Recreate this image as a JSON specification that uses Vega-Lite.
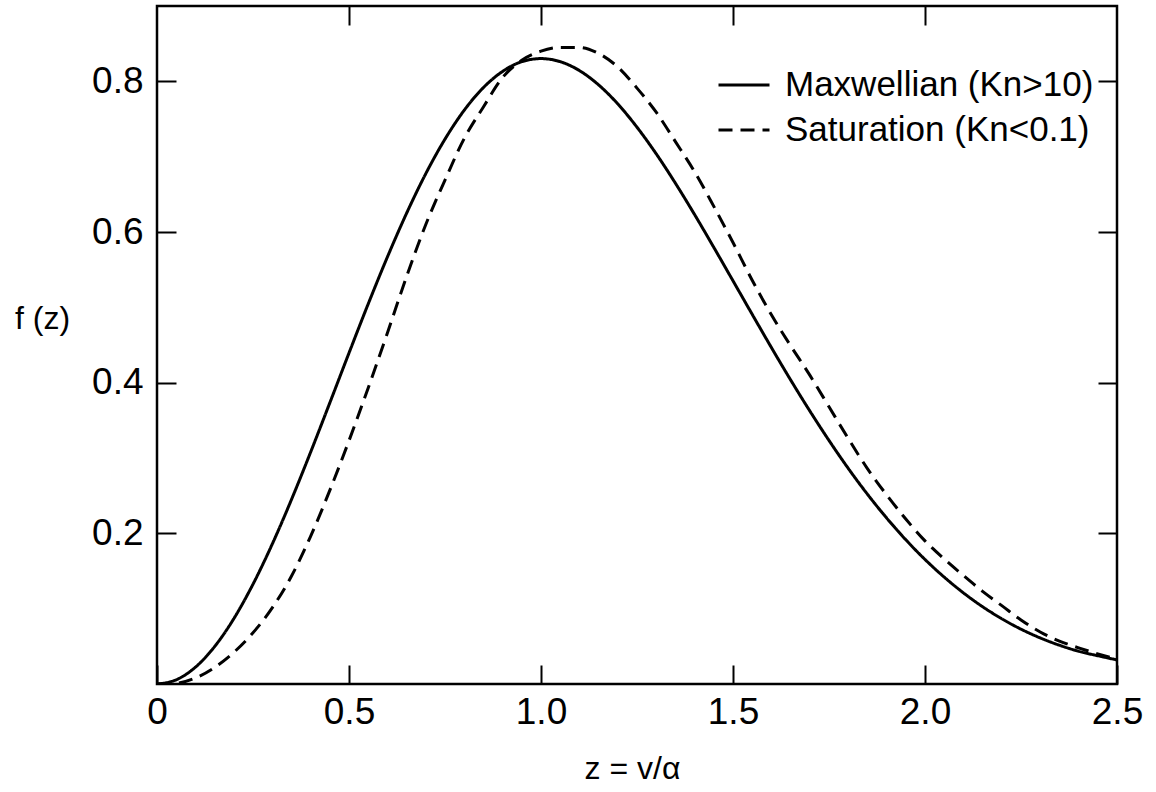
{
  "$schema": "https://vega.github.io/schema/vega-lite/v6.json",
  "width": 960,
  "height": 678,
  "autosize": {"type": "none"},
  "padding": {"left": 157, "top": 6, "right": 39, "bottom": 108},
  "background": "white",
  "config": {
    "view": {"stroke": "black", "strokeWidth": 2.5},
    "font": "Liberation Sans",
    "axis": {"grid": false, "domain": false, "tickColor": "black", "tickWidth": 2, "tickSize": -19, "labelColor": "black", "titleColor": "black", "labelFont": "Liberation Sans", "titleFont": "Liberation Sans", "titleFontWeight": "normal", "labelFlush": false, "labelOverlap": false, "labelBound": false}
  },
  "datasets": {
    "curves": [
      {"series": "Maxwellian (Kn>10)", "z": 0.0, "f": 0.0},
      {"series": "Maxwellian (Kn>10)", "z": 0.05, "f": 0.0056},
      {"series": "Maxwellian (Kn>10)", "z": 0.1, "f": 0.0223},
      {"series": "Maxwellian (Kn>10)", "z": 0.15, "f": 0.0497},
      {"series": "Maxwellian (Kn>10)", "z": 0.2, "f": 0.0867},
      {"series": "Maxwellian (Kn>10)", "z": 0.25, "f": 0.1325},
      {"series": "Maxwellian (Kn>10)", "z": 0.3, "f": 0.1856},
      {"series": "Maxwellian (Kn>10)", "z": 0.35, "f": 0.2446},
      {"series": "Maxwellian (Kn>10)", "z": 0.4, "f": 0.3077},
      {"series": "Maxwellian (Kn>10)", "z": 0.45, "f": 0.3732},
      {"series": "Maxwellian (Kn>10)", "z": 0.5, "f": 0.4394},
      {"series": "Maxwellian (Kn>10)", "z": 0.55, "f": 0.5045},
      {"series": "Maxwellian (Kn>10)", "z": 0.6, "f": 0.5668},
      {"series": "Maxwellian (Kn>10)", "z": 0.65, "f": 0.6249},
      {"series": "Maxwellian (Kn>10)", "z": 0.7, "f": 0.6775},
      {"series": "Maxwellian (Kn>10)", "z": 0.75, "f": 0.7233},
      {"series": "Maxwellian (Kn>10)", "z": 0.8, "f": 0.7616},
      {"series": "Maxwellian (Kn>10)", "z": 0.85, "f": 0.7917},
      {"series": "Maxwellian (Kn>10)", "z": 0.9, "f": 0.8132},
      {"series": "Maxwellian (Kn>10)", "z": 0.95, "f": 0.8261},
      {"series": "Maxwellian (Kn>10)", "z": 1.0, "f": 0.8302},
      {"series": "Maxwellian (Kn>10)", "z": 1.05, "f": 0.8261},
      {"series": "Maxwellian (Kn>10)", "z": 1.1, "f": 0.8143},
      {"series": "Maxwellian (Kn>10)", "z": 1.15, "f": 0.7953},
      {"series": "Maxwellian (Kn>10)", "z": 1.2, "f": 0.77},
      {"series": "Maxwellian (Kn>10)", "z": 1.25, "f": 0.7391},
      {"series": "Maxwellian (Kn>10)", "z": 1.3, "f": 0.7038},
      {"series": "Maxwellian (Kn>10)", "z": 1.35, "f": 0.6648},
      {"series": "Maxwellian (Kn>10)", "z": 1.4, "f": 0.6231},
      {"series": "Maxwellian (Kn>10)", "z": 1.45, "f": 0.5796},
      {"series": "Maxwellian (Kn>10)", "z": 1.5, "f": 0.5352},
      {"series": "Maxwellian (Kn>10)", "z": 1.55, "f": 0.4907},
      {"series": "Maxwellian (Kn>10)", "z": 1.6, "f": 0.4466},
      {"series": "Maxwellian (Kn>10)", "z": 1.65, "f": 0.4037},
      {"series": "Maxwellian (Kn>10)", "z": 1.7, "f": 0.3625},
      {"series": "Maxwellian (Kn>10)", "z": 1.75, "f": 0.3233},
      {"series": "Maxwellian (Kn>10)", "z": 1.8, "f": 0.2863},
      {"series": "Maxwellian (Kn>10)", "z": 1.85, "f": 0.252},
      {"series": "Maxwellian (Kn>10)", "z": 1.9, "f": 0.2204},
      {"series": "Maxwellian (Kn>10)", "z": 1.95, "f": 0.1915},
      {"series": "Maxwellian (Kn>10)", "z": 2.0, "f": 0.1653},
      {"series": "Maxwellian (Kn>10)", "z": 2.05, "f": 0.1419},
      {"series": "Maxwellian (Kn>10)", "z": 2.1, "f": 0.121},
      {"series": "Maxwellian (Kn>10)", "z": 2.15, "f": 0.1026},
      {"series": "Maxwellian (Kn>10)", "z": 2.2, "f": 0.0866},
      {"series": "Maxwellian (Kn>10)", "z": 2.25, "f": 0.0728},
      {"series": "Maxwellian (Kn>10)", "z": 2.3, "f": 0.0612},
      {"series": "Maxwellian (Kn>10)", "z": 2.35, "f": 0.0515},
      {"series": "Maxwellian (Kn>10)", "z": 2.4, "f": 0.0435},
      {"series": "Maxwellian (Kn>10)", "z": 2.45, "f": 0.0375},
      {"series": "Maxwellian (Kn>10)", "z": 2.5, "f": 0.032},
      {"series": "Saturation (Kn<0.1)", "z": 0.0, "f": 0.0},
      {"series": "Saturation (Kn<0.1)", "z": 0.05, "f": 0.001},
      {"series": "Saturation (Kn<0.1)", "z": 0.1, "f": 0.008},
      {"series": "Saturation (Kn<0.1)", "z": 0.15, "f": 0.022},
      {"series": "Saturation (Kn<0.1)", "z": 0.2, "f": 0.042},
      {"series": "Saturation (Kn<0.1)", "z": 0.25, "f": 0.068},
      {"series": "Saturation (Kn<0.1)", "z": 0.3, "f": 0.101},
      {"series": "Saturation (Kn<0.1)", "z": 0.35, "f": 0.143},
      {"series": "Saturation (Kn<0.1)", "z": 0.4, "f": 0.196},
      {"series": "Saturation (Kn<0.1)", "z": 0.45, "f": 0.257},
      {"series": "Saturation (Kn<0.1)", "z": 0.5, "f": 0.323},
      {"series": "Saturation (Kn<0.1)", "z": 0.55, "f": 0.393},
      {"series": "Saturation (Kn<0.1)", "z": 0.6, "f": 0.466},
      {"series": "Saturation (Kn<0.1)", "z": 0.65, "f": 0.541},
      {"series": "Saturation (Kn<0.1)", "z": 0.7, "f": 0.61},
      {"series": "Saturation (Kn<0.1)", "z": 0.75, "f": 0.669},
      {"series": "Saturation (Kn<0.1)", "z": 0.8, "f": 0.724},
      {"series": "Saturation (Kn<0.1)", "z": 0.85, "f": 0.766},
      {"series": "Saturation (Kn<0.1)", "z": 0.9, "f": 0.805},
      {"series": "Saturation (Kn<0.1)", "z": 0.95, "f": 0.828},
      {"series": "Saturation (Kn<0.1)", "z": 1.0, "f": 0.84},
      {"series": "Saturation (Kn<0.1)", "z": 1.05, "f": 0.845},
      {"series": "Saturation (Kn<0.1)", "z": 1.1, "f": 0.845},
      {"series": "Saturation (Kn<0.1)", "z": 1.15, "f": 0.837},
      {"series": "Saturation (Kn<0.1)", "z": 1.2, "f": 0.819},
      {"series": "Saturation (Kn<0.1)", "z": 1.25, "f": 0.791},
      {"series": "Saturation (Kn<0.1)", "z": 1.3, "f": 0.759},
      {"series": "Saturation (Kn<0.1)", "z": 1.35, "f": 0.72},
      {"series": "Saturation (Kn<0.1)", "z": 1.4, "f": 0.68},
      {"series": "Saturation (Kn<0.1)", "z": 1.45, "f": 0.634},
      {"series": "Saturation (Kn<0.1)", "z": 1.5, "f": 0.586},
      {"series": "Saturation (Kn<0.1)", "z": 1.55, "f": 0.536},
      {"series": "Saturation (Kn<0.1)", "z": 1.6, "f": 0.49},
      {"series": "Saturation (Kn<0.1)", "z": 1.65, "f": 0.449},
      {"series": "Saturation (Kn<0.1)", "z": 1.7, "f": 0.41},
      {"series": "Saturation (Kn<0.1)", "z": 1.75, "f": 0.368},
      {"series": "Saturation (Kn<0.1)", "z": 1.8, "f": 0.326},
      {"series": "Saturation (Kn<0.1)", "z": 1.85, "f": 0.286},
      {"series": "Saturation (Kn<0.1)", "z": 1.9, "f": 0.251},
      {"series": "Saturation (Kn<0.1)", "z": 1.95, "f": 0.219},
      {"series": "Saturation (Kn<0.1)", "z": 2.0, "f": 0.19},
      {"series": "Saturation (Kn<0.1)", "z": 2.05, "f": 0.166},
      {"series": "Saturation (Kn<0.1)", "z": 2.1, "f": 0.144},
      {"series": "Saturation (Kn<0.1)", "z": 2.15, "f": 0.123},
      {"series": "Saturation (Kn<0.1)", "z": 2.2, "f": 0.104},
      {"series": "Saturation (Kn<0.1)", "z": 2.25, "f": 0.085},
      {"series": "Saturation (Kn<0.1)", "z": 2.3, "f": 0.069},
      {"series": "Saturation (Kn<0.1)", "z": 2.35, "f": 0.057},
      {"series": "Saturation (Kn<0.1)", "z": 2.4, "f": 0.048},
      {"series": "Saturation (Kn<0.1)", "z": 2.45, "f": 0.04},
      {"series": "Saturation (Kn<0.1)", "z": 2.5, "f": 0.033}
    ]
  },
  "layer": [
    {
      "data": {"name": "curves"},
      "mark": {"type": "line", "stroke": "black", "strokeWidth": 3, "interpolate": "monotone", "clip": true},
      "encoding": {
        "x": {"field": "z", "type": "quantitative", "scale": {"domain": [0, 2.5], "nice": false, "zero": false},
          "axis": {"orient": "bottom", "values": [0, 0.5, 1, 1.5, 2, 2.5], "labelExpr": "datum.value == 0 ? '0' : format(datum.value, '.1f')", "labelFontSize": 37, "labelPadding": 29, "title": "z = v/α", "titleFontSize": 32, "titleX": 475, "titleY": 94, "titleBaseline": "alphabetic", "titleAnchor": null}},
        "y": {"field": "f", "type": "quantitative", "scale": {"domain": [0, 0.9], "nice": false},
          "axis": {"orient": "left", "values": [0.2, 0.4, 0.6, 0.8], "format": ".1f", "labelFontSize": 37, "labelPadding": 33, "title": "f (z)", "titleFontSize": 32, "titleAngle": 0, "titleX": -115, "titleY": 312, "titleAlign": "center", "titleBaseline": "middle"}},
        "strokeDash": {"field": "series", "type": "nominal",
          "scale": {"domain": ["Maxwellian (Kn>10)", "Saturation (Kn<0.1)"], "range": [[1, 0], [14, 8]]},
          "legend": {"orient": "none", "legendX": 560, "legendY": 52, "title": null, "padding": 0, "symbolType": "stroke", "symbolSize": 2601, "symbolStrokeWidth": 3, "symbolStrokeColor": "black", "labelFontSize": 35, "labelFont": "Liberation Sans", "labelColor": "black", "labelOffset": 14, "rowPadding": 0, "labelLimit": 500}}
      }
    },
    {
      "data": {"name": "curves"},
      "mark": {"type": "line", "opacity": 0},
      "encoding": {
        "detail": {"field": "series"},
        "x": {"field": "z", "type": "quantitative", "scale": {"domain": [0, 2.5], "nice": false, "zero": false},
          "axis": {"orient": "top", "values": [0.5, 1, 1.5, 2], "labels": false, "title": null}},
        "y": {"field": "f", "type": "quantitative", "scale": {"domain": [0, 0.9], "nice": false},
          "axis": {"orient": "right", "values": [0.2, 0.4, 0.6, 0.8], "labels": false, "title": null}}
      }
    }
  ],
  "resolve": {"axis": {"x": "independent", "y": "independent"}}
}
